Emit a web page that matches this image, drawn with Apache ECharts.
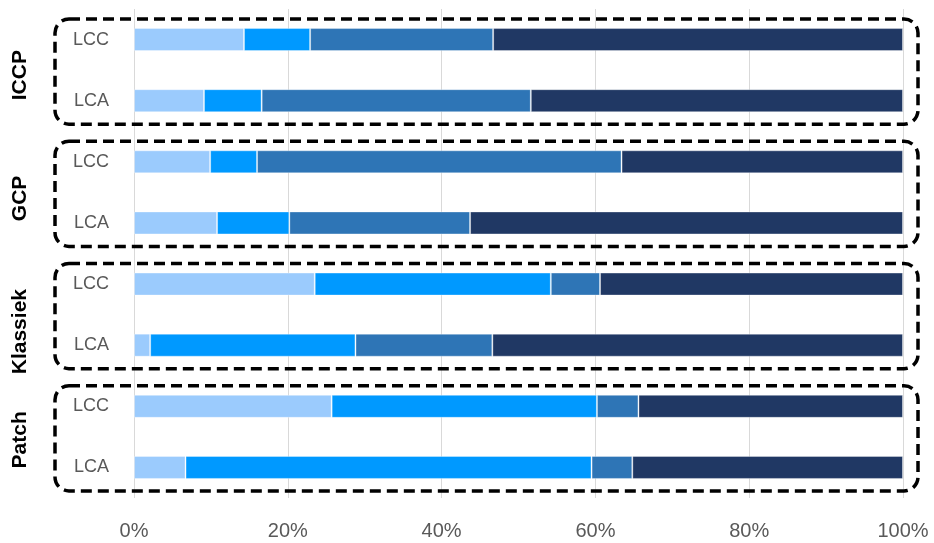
<!DOCTYPE html>
<html>
<head>
<meta charset="utf-8">
<script src="https://cdn.jsdelivr.net/npm/echarts@6/dist/echarts.min.js"></script>
<style>html,body{margin:0;padding:0;background:#fff}#c{width:934px;height:543px}</style>
</head>
<body>
<div id="c"></div>
<script>
// ---- data ----
const groups = ['ICCP', 'GCP', 'Klassiek', 'Patch'];
const subs = ['LCC', 'LCA'];
const xTicks = [0, 20, 40, 60, 80, 100];
// segment shares (%) per bar, order: ICCP LCC, ICCP LCA, GCP LCC, GCP LCA, Klassiek LCC, Klassiek LCA, Patch LCC, Patch LCA
const seg1 = [14.3, 9.1, 9.9, 10.8, 23.5, 2.1, 25.7, 6.7];
const seg2 = [8.6, 7.5, 6.1, 9.4, 30.7, 26.7, 34.5, 52.8];
const seg3 = [23.8, 35.0, 47.4, 23.5, 6.4, 17.8, 5.4, 5.3];
const seg4 = [53.3, 48.4, 36.6, 56.3, 39.4, 53.4, 34.4, 35.2];
const seriesNames = ['Deel 1', 'Deel 2', 'Deel 3', 'Deel 4'];

// ---- build ----
const categories = [];
groups.forEach(g => subs.forEach(s => categories.push(g + '|' + s)));
const colors = ['#9BCBFD', '#0099FF', '#2E75B6', '#203864'];
const segs = [seg1, seg2, seg3, seg4];
const FONT = 'Liberation Sans';

const chart = echarts.init(document.getElementById('c'), null, {renderer: 'canvas'});
chart.setOption({
  animation: false,
  grid: {left: 134, right: 31, top: 9, bottom: 45, containLabel: false},
  xAxis: {
    type: 'value', min: xTicks[0], max: xTicks[xTicks.length - 1], interval: xTicks[1] - xTicks[0],
    axisLine: {show: false}, axisTick: {show: false},
    splitLine: {show: true, lineStyle: {color: '#D9D9D9', width: 1}},
    axisLabel: {formatter: '{value}%', color: '#595959', fontSize: 20, fontFamily: FONT, margin: 23}
  },
  yAxis: {
    type: 'category', data: categories, inverse: true,
    axisLine: {show: false}, axisTick: {show: false},
    axisLabel: {formatter: v => v.split('|')[1], color: '#595959', fontSize: 18, fontFamily: FONT, margin: 25}
  },
  series: segs.map((d, i) => ({
    name: seriesNames[i], type: 'bar', stack: 'total', barWidth: 23,
    itemStyle: {color: colors[i], borderColor: 'rgba(255,255,255,0.35)', borderWidth: 1},
    data: d
  }))
});

// decorations: dashed group boxes and rotated group labels
const labelShift = [5, 6, 17, 3];
const gfx = [];
groups.forEach((g, gi) => {
  const y1 = chart.convertToPixel({yAxisIndex: 0}, categories[gi * 2]);
  const y2 = chart.convertToPixel({yAxisIndex: 0}, categories[gi * 2 + 1]);
  const top = y1 - 20.5, bottom = y2 + 23.5;
  gfx.push({
    type: 'rect', silent: true,
    shape: {x: 55, y: top, width: 863, height: bottom - top, r: 14},
    style: {fill: 'none', stroke: '#000', lineWidth: 3.5, lineDash: [11, 6]}
  });
  gfx.push({
    type: 'text', silent: true,
    x: 20, y: (y1 + y2) / 2 + labelShift[gi], rotation: Math.PI / 2,
    style: {text: g, fill: '#000', font: 'bold 21px "' + FONT + '"', align: 'center', verticalAlign: 'middle'}
  });
});
chart.setOption({graphic: gfx});
</script>
</body>
</html>
